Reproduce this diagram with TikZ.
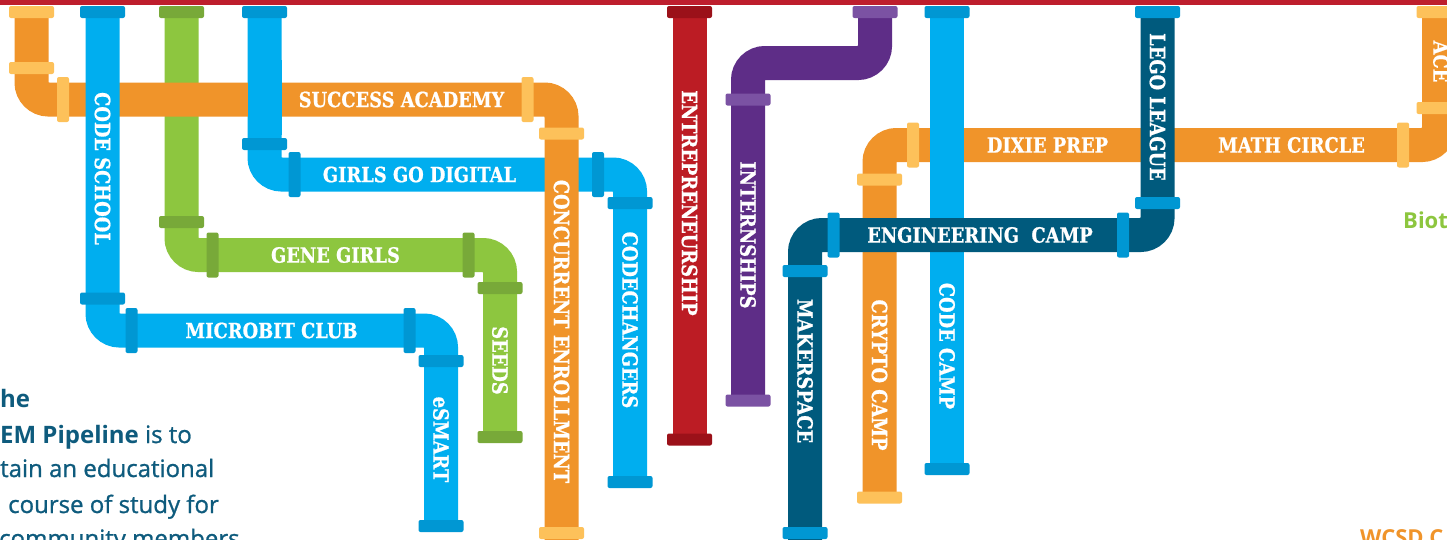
\documentclass[tikz,border=0pt]{standalone}
\usepackage{fontspec}
\newfontfamily\pipefont{DejaVu Serif}[FakeStretch=0.85, BoldFeatures={FakeBold=0.8}]
\newfontfamily\blurbfont{Open Sans}[UprightFeatures={FakeBold=1}]
\definecolor{barRed}{HTML}{BE1E2D}
\definecolor{pOrange}{HTML}{F0942A}
\definecolor{cOrange}{HTML}{FDC15A}
\definecolor{pBlue}{HTML}{00AEEF}
\definecolor{cBlue}{HTML}{0097D3}
\definecolor{pGreen}{HTML}{8DC63F}
\definecolor{cGreen}{HTML}{78A939}
\definecolor{pRed}{HTML}{BC1C24}
\definecolor{cRed}{HTML}{9B1119}
\definecolor{pPurple}{HTML}{5E2D87}
\definecolor{cPurple}{HTML}{7B52A3}
\definecolor{pNavy}{HTML}{005A7D}
\definecolor{blurbBlue}{HTML}{0E5B7D}

\begin{document}
\begin{tikzpicture}[x=1pt, y=-1pt,
  pipe/.style={line width=34pt, rounded corners=17pt},
  vcollar/.style={rectangle, rounded corners=2pt, inner sep=0pt, minimum width=45pt, minimum height=12pt},
  hcollar/.style={rectangle, rounded corners=2pt, inner sep=0pt, minimum width=12pt, minimum height=45pt},
  lbl/.style={text=white, inner sep=0pt, font=\pipefont\bfseries\fontsize{21}{21}\selectfont},
  vlbl/.style={lbl, rotate=-90},
  blurb/.style={text=blurbBlue, inner sep=0pt, anchor=base west, font=\blurbfont\fontsize{24}{24}\selectfont}]
\useasboundingbox (0,0) rectangle (1447,539);
\fill[white] (0,0) rectangle (1447,539);

\draw[pipe, pGreen] (181.5,6) -- (181.5,255) -- (500,255) -- (500,437);
\node[vcollar, fill=cGreen] (gg1) at (181.5,12) {};
\node[vcollar, fill=cGreen] (gg2) at (181.5,222) {};
\node[hcollar, fill=cGreen] (gg3) at (212.5,255) {};
\node[hcollar, fill=cGreen] (gg4) at (468.5,255) {};
\node[vcollar, fill=cGreen] (gg5) at (500,288) {};
\node[vcollar, fill=cGreen] (gg6) at (500,437) {};
\node[lbl] (gene) at (335.5,255) {GENE GIRLS};
\node[vlbl] (seeds) at (500,360.5) {SEEDS};

\draw[pipe, pBlue] (264.5,6) -- (264.5,174.5) -- (630,174.5) -- (630,482);
\node[vcollar, fill=cBlue] (gd1) at (264.5,12) {};
\node[vcollar, fill=cBlue] (gd2) at (264.5,144) {};
\node[hcollar, fill=cBlue] (gd3) at (294.5,174.5) {};
\node[hcollar, fill=cBlue] (gd4) at (598,174.5) {};
\node[vcollar, fill=cBlue] (gd5) at (630,203) {};
\node[vcollar, fill=cBlue] (gd6) at (630,482) {};
\node[lbl] (girls) at (419.5,174.5) {GIRLS GO DIGITAL};
\node[vlbl] (cch) at (630,320) {CODECHANGERS};

\draw[pipe, pOrange] (31.5,6) -- (31.5,99.5) -- (561.5,99.5) -- (561.5,545);
\node[vcollar, fill=cOrange] (sa1) at (31.5,12) {};
\node[vcollar, fill=cOrange] (sa2) at (31.5,68) {};
\node[hcollar, fill=cOrange] (sa3) at (63,99.5) {};
\node[hcollar, fill=cOrange] (sa4) at (527.5,99.5) {};
\node[vcollar, fill=cOrange] (sa5) at (561.5,133.5) {};
\node[vcollar, fill=cOrange] (sa6) at (561.5,533) {};
\node[lbl] (success) at (401.5,99.5) {SUCCESS ACADEMY};
\node[vlbl] (conc) at (561.5,331.5) {CONCURRENT ENROLLMENT};
\draw[line width=34pt, pBlue] (264.5,60) -- (264.5,135);

\draw[pipe, pBlue] (102.5,6) -- (102.5,330.5) -- (441,330.5) -- (441,526);
\node[vcollar, fill=cBlue] (cs1) at (102.5,12) {};
\node[vcollar, fill=cBlue] (cs2) at (102.5,298.5) {};
\node[hcollar, fill=cBlue] (cs3) at (131.5,330.5) {};
\node[hcollar, fill=cBlue] (cs4) at (409.5,330.5) {};
\node[vcollar, fill=cBlue] (cs5) at (441,361) {};
\node[vcollar, fill=cBlue] (cs6) at (441,526) {};
\node[vlbl] (school) at (102.5,168.5) {CODE SCHOOL};
\node[lbl] (micro) at (271.5,330.5) {MICROBIT CLUB};
\node[vlbl] (esmart) at (441,439.5) {eSMART};

\draw[pipe, pRed] (689.5,6) -- (689.5,440);
\node[vcollar, fill=cRed] (en1) at (689.5,12) {};
\node[vcollar, fill=cRed] (en2) at (689.5,439.5) {};
\node[vlbl] (entre) at (689.5,203) {ENTREPRENEURSHIP};

\draw[pipe, pPurple] (875,6) -- (875,63) -- (748,63) -- (748,400);
\node[vcollar, fill=cPurple] (in1) at (875,12) {};
\node[vcollar, fill=cPurple] (in2) at (748,99.5) {};
\node[vcollar, fill=cPurple] (in3) at (748,400.5) {};
\node[vlbl] (intern) at (748,235) {INTERNSHIPS};

\draw[pipe, pOrange] (1439,6) -- (1439,145) -- (879.5,145) -- (879.5,498);
\node[vcollar, fill=cOrange] (dp1) at (1439,12) {};
\node[vcollar, fill=cOrange] (dp2) at (1439,108) {};
\node[hcollar, fill=cOrange] (dp3) at (1403,145) {};
\node[hcollar, fill=cOrange] (dp4) at (913,145) {};
\node[vcollar, fill=cOrange] (dp5) at (879.5,179.5) {};
\node[vcollar, fill=cOrange] (dp6) at (879.5,497.5) {};
\node[vlbl] (ace) at (1441,61.5) {ACE};
\node[lbl] (math) at (1291.5,145) {MATH CIRCLE};
\node[lbl] (dixie) at (1047.5,145) {DIXIE PREP};
\node[vlbl] (crypto) at (879.5,375) {CRYPTO CAMP};

\draw[pipe, pBlue] (947,6) -- (947,469);
\node[vcollar, fill=cBlue] (cc1) at (947,12) {};
\node[vcollar, fill=cBlue] (cc2) at (947,469) {};
\node[vlbl] (camp) at (947,346) {CODE CAMP};

\draw[pipe, pNavy] (1157.5,6) -- (1157.5,235) -- (805,235) -- (805,545);
\node[vcollar, fill=cBlue] (lg1) at (1157.5,12) {};
\node[vcollar, fill=cBlue] (lg2) at (1157.5,203) {};
\node[hcollar, fill=cBlue] (lg3) at (1123,235) {};
\node[hcollar, fill=cBlue] (lg4) at (833.5,235) {};
\node[vcollar, fill=cBlue] (lg5) at (805,271) {};
\node[vcollar, fill=cBlue] (lg6) at (805,533) {};
\node[vlbl] (lego) at (1157.5,107) {LEGO LEAGUE};
\node[lbl] (eng) at (980,235) {ENGINEERING\ \ CAMP};
\node[vlbl] (maker) at (805,371) {MAKERSPACE};

\node[blurb] (t1) at (0,407) {\bfseries he};
\node[blurb] (t2) at (0,443) {{\bfseries EM Pipeline} is to};
\node[blurb] (t3) at (0,477) {tain an educational};
\node[blurb] (t4) at (8,513) {course of study for};
\node[blurb] (t5) at (-1,547) {community members};
\node[blurb, text=pGreen, font=\blurbfont\bfseries\fontsize{22}{22}\selectfont] (bio) at (1403,228) {Biot};
\node[blurb, text=pOrange, font=\blurbfont\bfseries\fontsize{22}{22}\selectfont] (wcsd) at (1360,545) {WCSD C};

\fill[barRed] (0,0) rectangle (1447,5);
\end{tikzpicture}
\end{document}
